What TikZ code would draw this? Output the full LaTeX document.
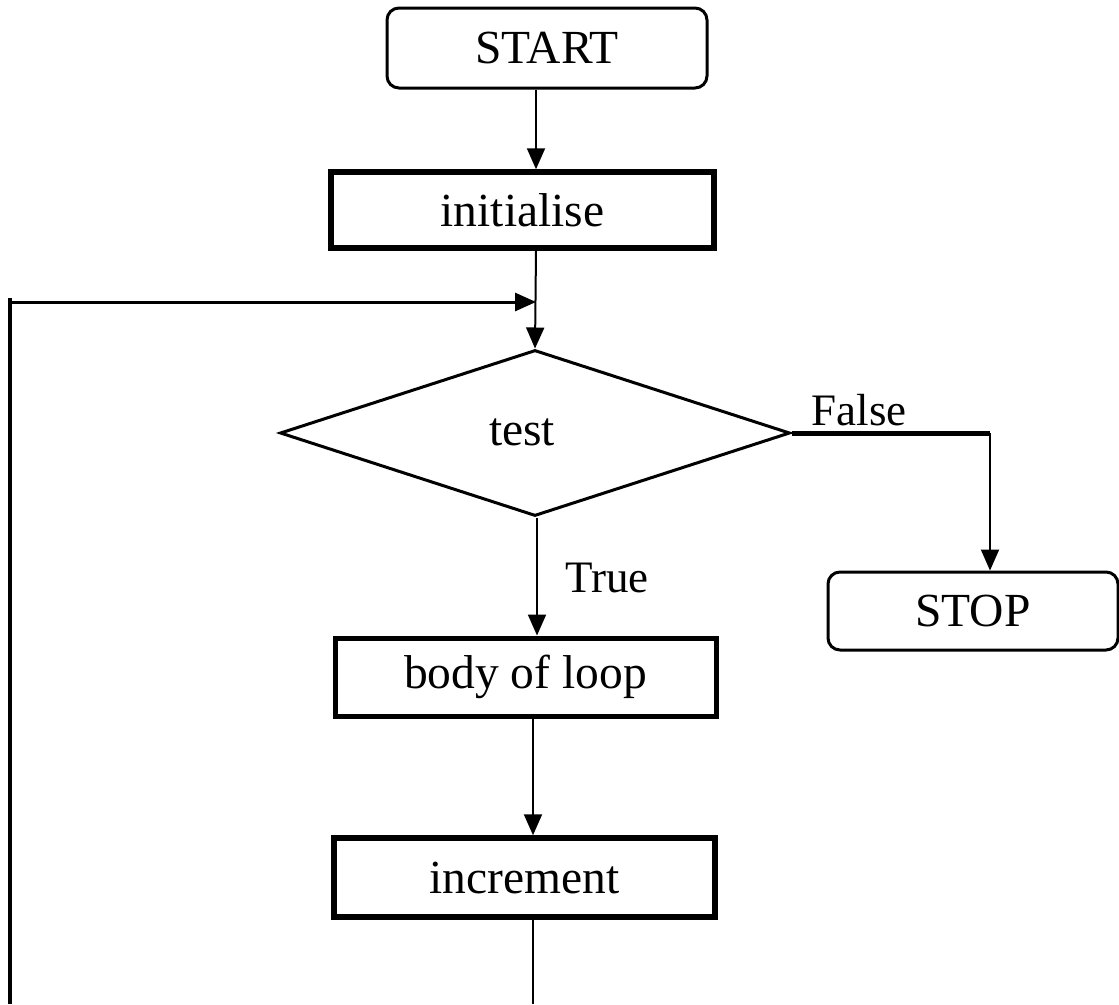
\documentclass[tikz,border=0pt]{standalone}
\usepackage{fontspec}
\setmainfont{Liberation Serif}
\usetikzlibrary{shapes.geometric,arrows.meta}
\begin{document}
\begin{tikzpicture}[x=1pt,y=-1pt,
  every node/.style={font=\fontsize{47.5}{56}\selectfont, inner sep=0pt},
  term/.style={draw, rounded corners=12pt, line width=3pt},
  proc/.style={draw, line width=5.5pt},
  dec/.style={draw, diamond, line width=3pt, minimum width=510pt, minimum height=166pt, aspect=3},
  arr/.style={-{Triangle[length=21pt,width=18pt]}, line width=2pt},
  lbl/.style={font=\fontsize{45}{52}\selectfont}
]
\useasboundingbox (0,0) rectangle (1119,1004);
\node[term, minimum width=320pt, minimum height=80pt] (start) at (547,48) {START};
\node[proc, minimum width=383pt, minimum height=76pt] (init) at (522.5,210) {initialise};
\node[dec] (test) at (535,433) {};
\node at (522,432) (testtxt) {test};
\node[term, minimum width=290pt, minimum height=78pt] (stop) at (973,611) {STOP};
\node[proc, line width=5pt, minimum width=381pt, minimum height=78pt] (body) at (525.5,677) {body of loop};
\node[proc, minimum width=381pt, minimum height=79pt] (inc) at (524.5,877.5) {increment};
\coordinate (colA) at (536,0);
\coordinate (colB) at (537,0);
\coordinate (colC) at (533,0);
\coordinate (colS) at (990,0);
\coordinate (join) at (536,302);
\coordinate (botR) at (533,1004);
\coordinate (botL) at (9.5,1004);
\coordinate (cornerL) at (9.5,302);
\draw[arr] (start.south -| colA) -- (init.north -| colA);
\draw[arr] (init.south -| colA) -- (test.north);
\draw[line width=5pt] (test.east) -- (test.east -| colS);
\draw[arr] (test.east -| colS) -- (stop.north -| colS);
\draw[arr] (test.south -| colB) -- (body.north -| colB);
\draw[arr] (body.south -| colC) -- (inc.north -| colC);
\draw[line width=2pt] (inc.south -| colC) -- (botR);
\draw[line width=4pt] (botL) -- ([yshift=4pt]cornerL);
\draw[arr, line width=3pt] ([xshift=-2pt]cornerL) -- (join);
\node[lbl] (flabel) at (859,410) {False};
\node[lbl] (tlabel) at (607,578) {True};
\end{tikzpicture}
\end{document}
